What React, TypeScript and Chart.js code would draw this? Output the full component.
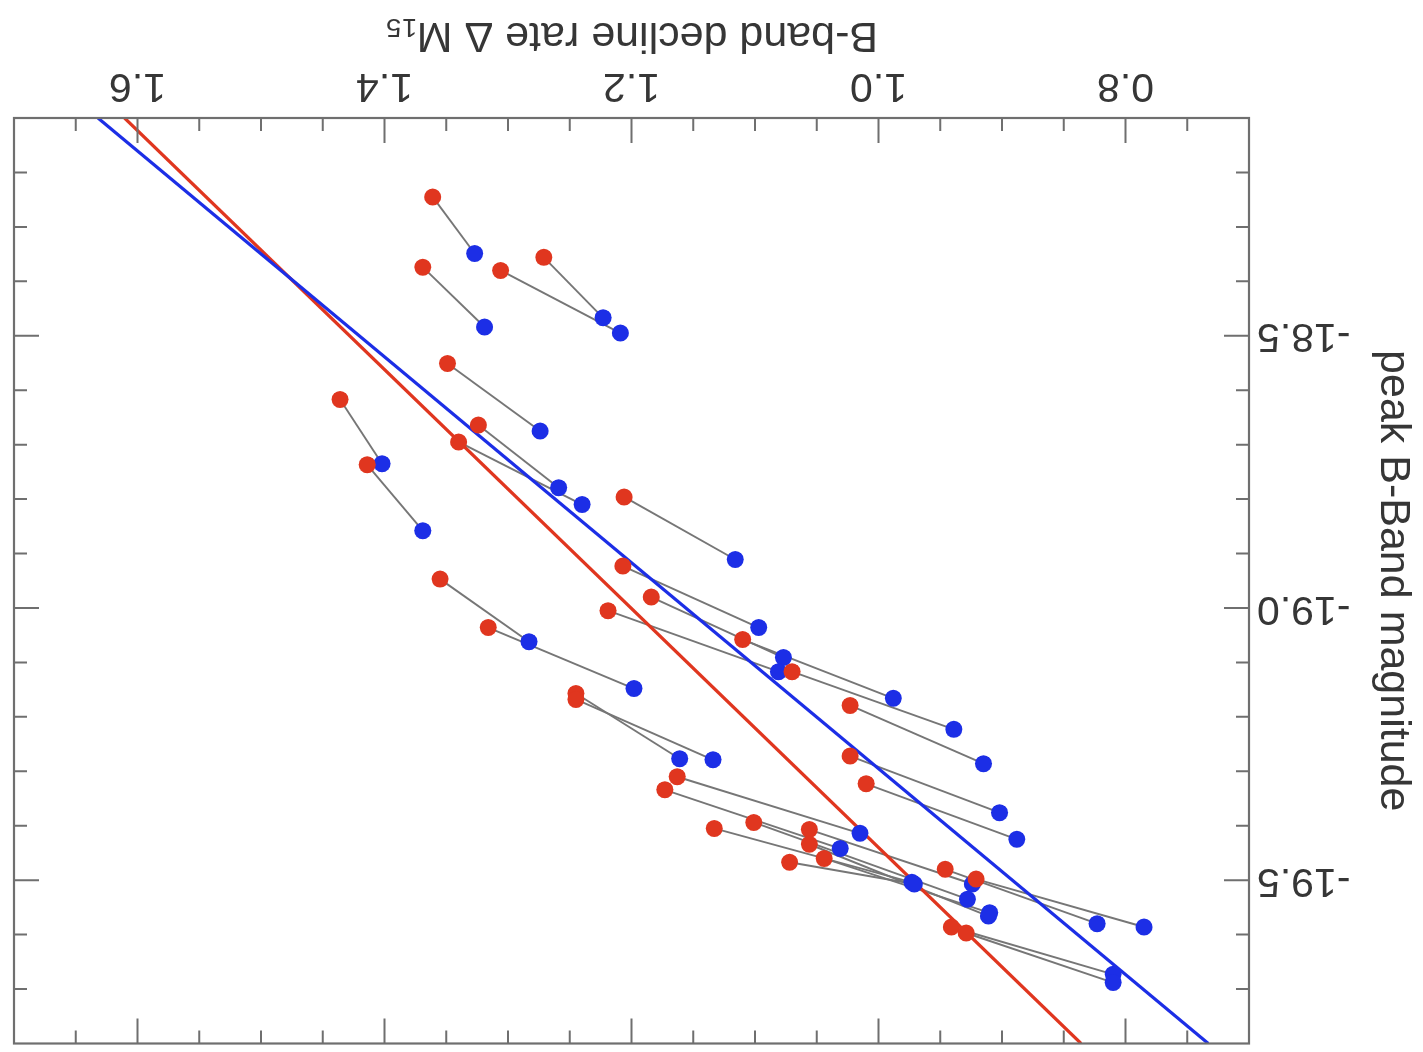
import React, { useEffect, useRef } from "react";
import { Chart, registerables } from "chart.js";

Chart.register(...registerables);

// Pairs: red point i is joined to blue point i by a thin grey line
const redDecline = [1.361, 1.271, 1.306, 1.369, 1.349, 1.436, 1.414, 1.324, 1.340, 1.206, 1.207, 1.184, 1.219, 1.110, 1.070, 1.355, 1.316, 1.245, 1.245, 1.023, 1.023, 1.010, 1.163, 1.173, 1.133, 1.101, 1.056, 1.056, 1.044, 1.072, 0.946, 0.921, 0.941, 0.929];
const redMag = [-18.245, -18.356, -18.380, -18.374, -18.551, -18.617, -18.737, -18.664, -18.695, -18.796, -18.923, -18.980, -19.005, -19.058, -19.117, -18.947, -19.036, -19.157, -19.168, -19.179, -19.272, -19.323, -19.310, -19.334, -19.405, -19.394, -19.407, -19.434, -19.460, -19.467, -19.480, -19.498, -19.586, -19.597];
const blueDecline = [1.327, 1.223, 1.209, 1.319, 1.274, 1.402, 1.369, 1.259, 1.240, 1.116, 1.097, 1.077, 1.081, 0.988, 0.939, 1.283, 1.198, 1.161, 1.134, 0.915, 0.902, 0.888, 1.015, 1.031, 0.973, 0.928, 0.924, 0.911, 0.910, 0.971, 0.823, 0.785, 0.810, 0.810];
const blueMag = [-18.349, -18.467, -18.495, -18.484, -18.675, -18.735, -18.858, -18.779, -18.810, -18.911, -19.036, -19.091, -19.117, -19.166, -19.223, -19.062, -19.148, -19.277, -19.279, -19.286, -19.376, -19.425, -19.414, -19.442, -19.504, -19.535, -19.507, -19.566, -19.560, -19.507, -19.580, -19.586, -19.673, -19.688];

// Fit lines (end points at the frame edges)
const blueFitDecline = [1.632, 0.733];
const blueFitMag = [-18.1, -19.8];
const redFitDecline = [1.6105, 0.836];
const redFitMag = [-18.1, -19.8];

const xTickValues = [0.8, 1.0, 1.2, 1.4, 1.6];
const yTickValues = [-19.5, -19.0, -18.5];
const xTitle = "B-band decline rate \u0394 M\u2081\u2085";
const yTitle = "peak B-Band magnitude";

const RED = "#e0361f";
const BLUE = "#1c2ee6";
const FRAME = "#6f6f6f";
const TEXT = "#363636";
const FONT = "'Liberation Sans', Arial, Helvetica, sans-serif";

const frameTicks = {
  id: "frameTicks",
  afterDatasetsDraw(chart: any) {
    const { ctx, chartArea: a, scales } = chart;
    const x = scales.x;
    const y = scales.y;
    ctx.save();
    ctx.strokeStyle = FRAME;
    ctx.lineWidth = 2;
    ctx.lineCap = "butt";
    ctx.beginPath();
    for (let i = 1; i < 20; i++) {
      const n = 14 + i;
      const v = n / 20;
      const len = n % 4 === 0 ? 25 : 13;
      const px = x.getPixelForValue(v);
      ctx.moveTo(px, a.bottom);
      ctx.lineTo(px, a.bottom - len);
      ctx.moveTo(px, a.top);
      ctx.lineTo(px, a.top + len);
    }
    for (let j = 1; j < 17; j++) {
      const n = 181 + j;
      const v = -n / 10;
      const len = n % 5 === 0 ? 25 : 13;
      const py = y.getPixelForValue(v);
      ctx.moveTo(a.left, py);
      ctx.lineTo(a.left + len, py);
      ctx.moveTo(a.right, py);
      ctx.lineTo(a.right - len, py);
    }
    ctx.stroke();
    ctx.lineWidth = 2.2;
    ctx.strokeRect(a.left, a.top, a.right - a.left, a.bottom - a.top);
    ctx.restore();
  },
};

const zeroPad = (s: any) => {
  s.paddingTop = 0;
  s.paddingBottom = 0;
  s.paddingLeft = 0;
  s.paddingRight = 0;
};

export default function App() {
  const ref = useRef<HTMLCanvasElement | null>(null);

  useEffect(() => {
    if (!ref.current) return;
    const connectors = redDecline.map((rx, i) => ({
      type: "scatter" as const,
      data: [
        { x: rx, y: redMag[i] },
        { x: blueDecline[i], y: blueMag[i] },
      ],
      showLine: true,
      borderColor: "#767676",
      borderWidth: 1.9,
      pointRadius: 0,
      order: 3,
    }));

    const chart = new Chart(ref.current, {
      type: "scatter",
      data: {
        datasets: [
          {
            data: redDecline.map((v, i) => ({ x: v, y: redMag[i] })),
            backgroundColor: RED,
            borderColor: RED,
            borderWidth: 0,
            pointRadius: 8.5,
            order: 0,
          },
          {
            data: blueDecline.map((v, i) => ({ x: v, y: blueMag[i] })),
            backgroundColor: BLUE,
            borderColor: BLUE,
            borderWidth: 0,
            pointRadius: 8.5,
            order: 1,
          },
          {
            data: blueFitDecline.map((v, i) => ({ x: v, y: blueFitMag[i] })),
            showLine: true,
            borderColor: BLUE,
            borderWidth: 3.2,
            pointRadius: 0,
            order: 2,
          },
          {
            data: redFitDecline.map((v, i) => ({ x: v, y: redFitMag[i] })),
            showLine: true,
            borderColor: RED,
            borderWidth: 3.2,
            pointRadius: 0,
            order: 2,
          },
          ...connectors,
        ] as any,
      },
      options: {
        responsive: false,
        animation: false,
        devicePixelRatio: 1,
        layout: { padding: { left: 0, right: 14, top: 3, bottom: 0 } },
        plugins: {
          legend: { display: false },
          tooltip: { enabled: false },
        },
        scales: {
          x: {
            type: "linear",
            position: "bottom",
            min: 0.7,
            max: 1.7,
            grid: { display: false, drawTicks: false },
            border: { display: false },
            afterBuildTicks: (s: any) => {
              s.ticks = xTickValues.map((v) => ({ value: v }));
            },
            afterFit: (s: any) => {
              s.height = 118;
              zeroPad(s);
            },
            ticks: {
              padding: 8,
              color: TEXT,
              font: { family: FONT, size: 41 },
              maxRotation: 0,
              callback: (v: any) => Number(v).toFixed(1),
            },
            title: {
              display: true,
              text: xTitle,
              color: TEXT,
              font: { family: FONT, size: 43 },
              padding: { top: 0, bottom: 9 },
            },
          },
          y: {
            type: "linear",
            position: "left",
            min: -19.8,
            max: -18.1,
            reverse: true,
            grid: { display: false, drawTicks: false },
            border: { display: false },
            afterBuildTicks: (s: any) => {
              s.ticks = yTickValues.map((v) => ({ value: v }));
            },
            afterFit: (s: any) => {
              s.width = 174;
              zeroPad(s);
            },
            ticks: {
              padding: 8,
              color: TEXT,
              font: { family: FONT, size: 41 },
              callback: (v: any) => Number(v).toFixed(1),
            },
            title: {
              display: true,
              text: yTitle,
              color: TEXT,
              font: { family: FONT, size: 43 },
              padding: { top: 4, bottom: 4 },
            },
          },
        },
      },
      plugins: [frameTicks],
    });
    return () => chart.destroy();
  }, []);

  return (
    <div
      style={{
        position: "absolute",
        left: 0,
        top: 0,
        width: 1423,
        height: 1052,
        background: "#ffffff",
        transform: "rotate(180deg)",
        transformOrigin: "50% 50%",
      }}
    >
      <canvas ref={ref} width={1423} height={1052} style={{ display: "block" }} />
    </div>
  );
}
